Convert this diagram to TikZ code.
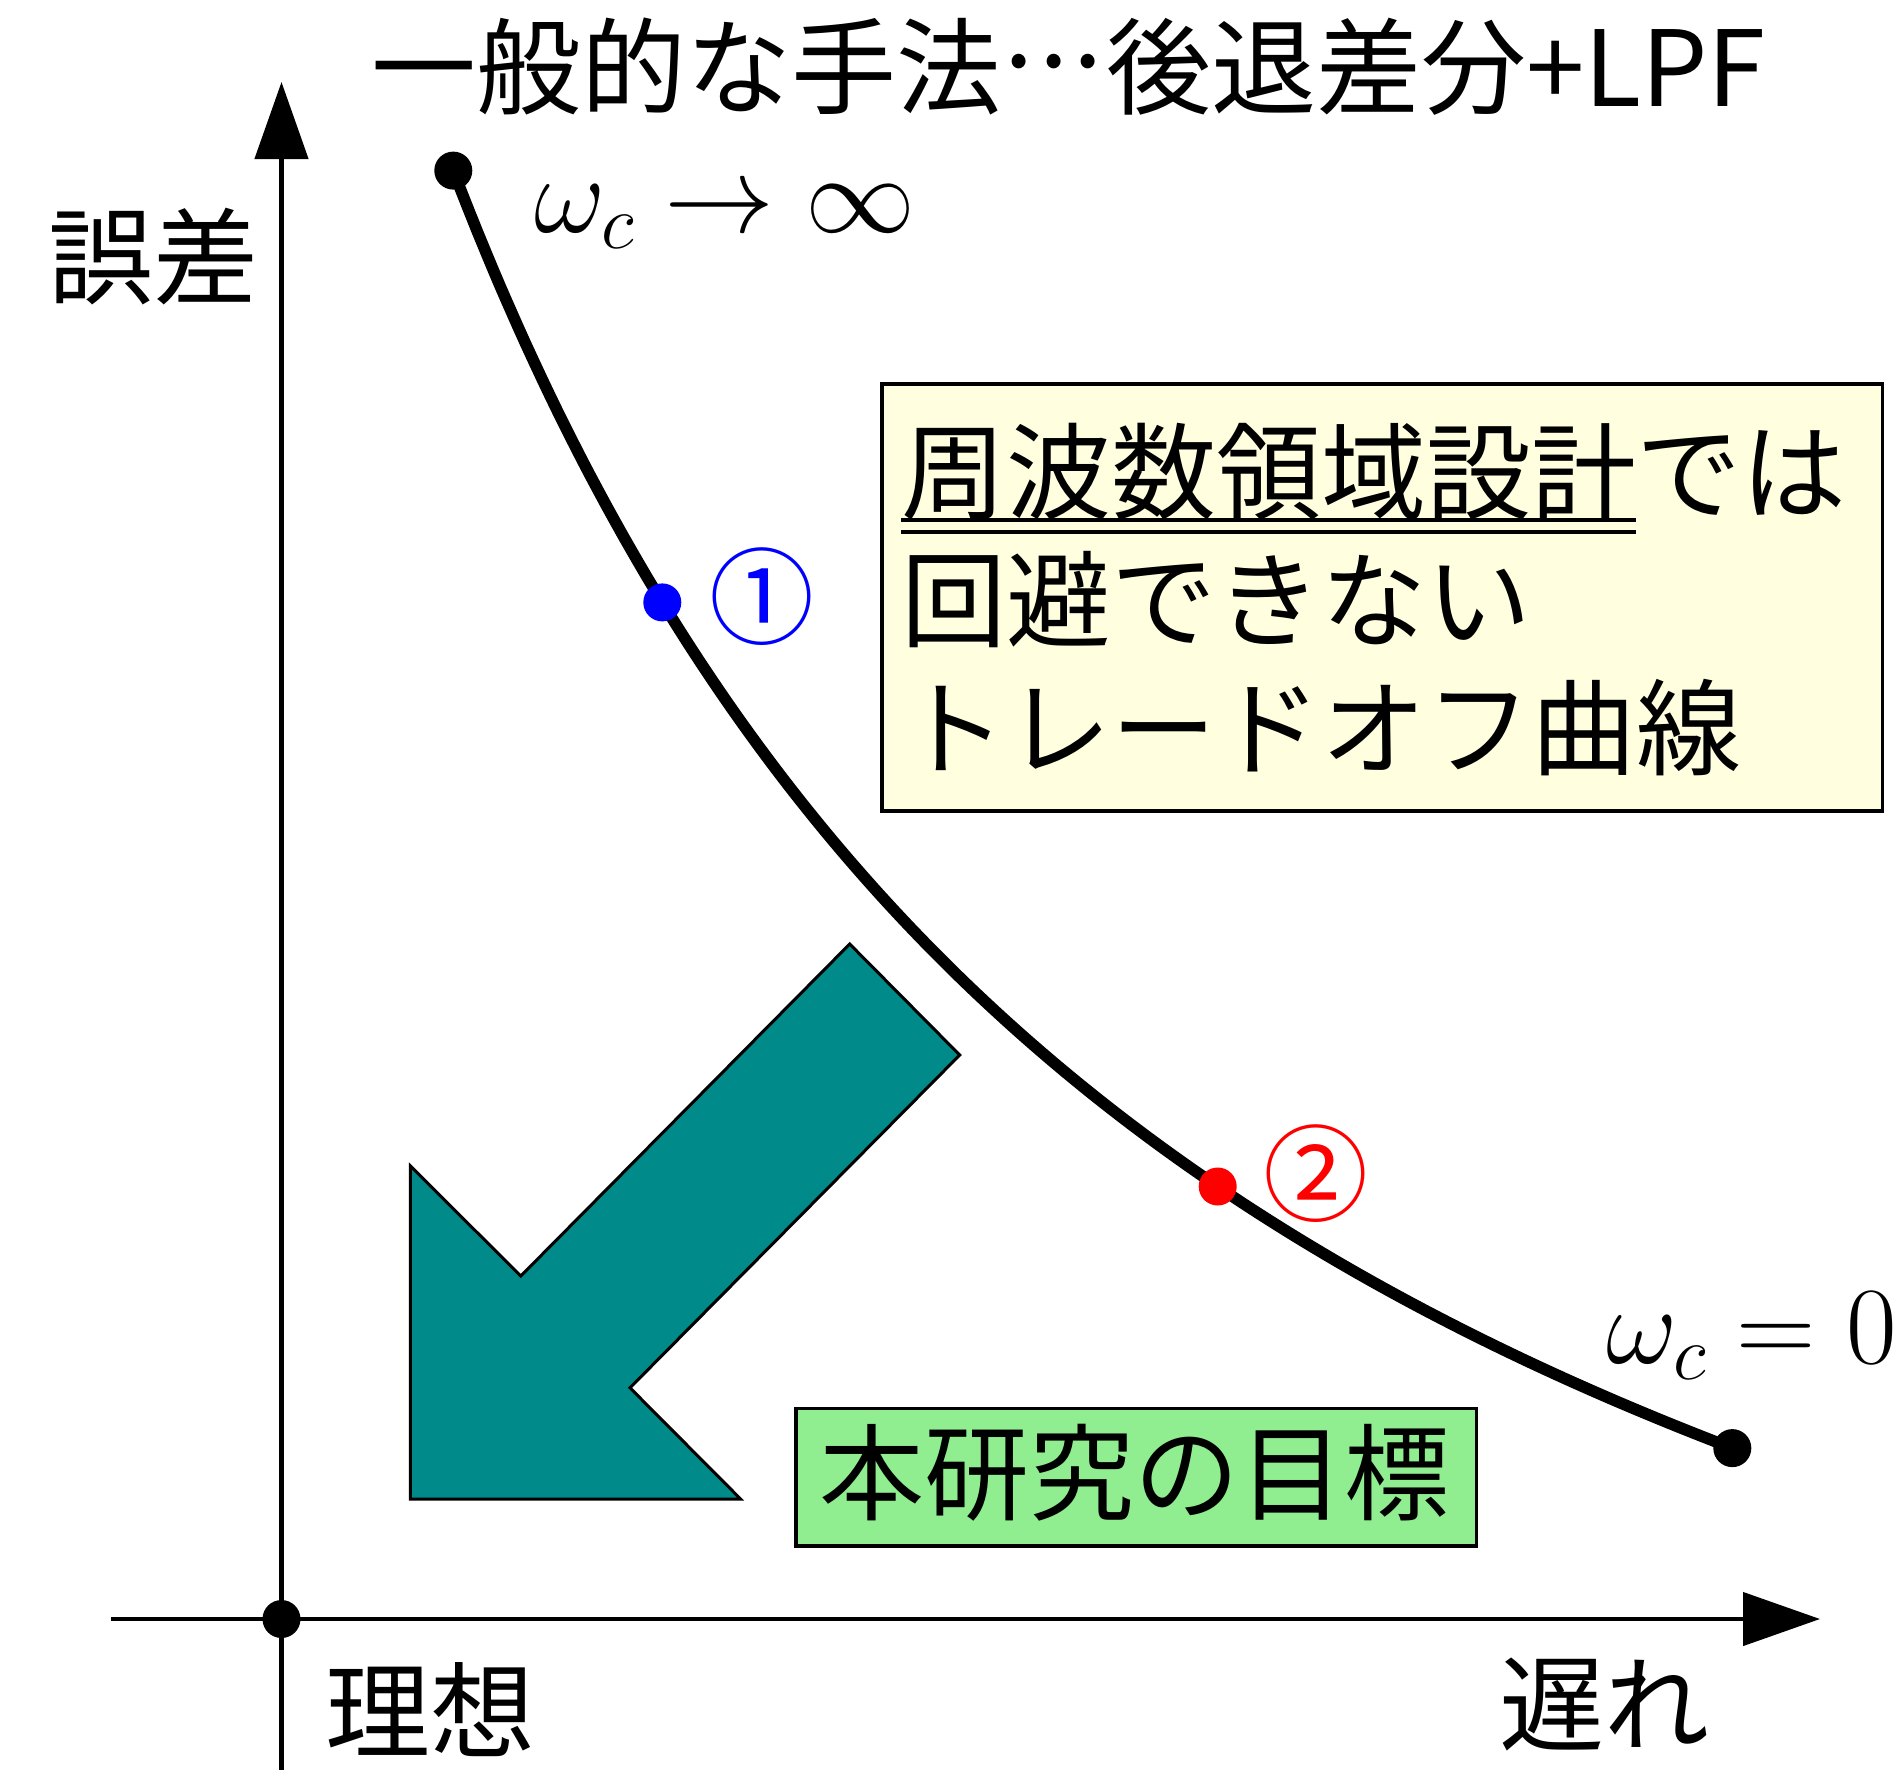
\RequirePackage{fix-cm}
\documentclass[tikz,border=0pt]{standalone}
\usepackage{fontspec}
\newfontfamily\jpfont{Noto Sans CJK JP}
\usetikzlibrary{arrows.meta}
\definecolor{tealfill}{RGB}{0,139,138}
\definecolor{noteyellow}{RGB}{255,255,224}
\definecolor{goalgreen}{RGB}{144,238,144}
\newcommand{\midellipsis}{\makebox[1em][s]{\raisebox{0.37em}{\makebox[1em][s]{\hspace{0.03em}.\hfill.\hfill.\hspace{0.03em}}}}}
\begin{document}
\begin{tikzpicture}[x=1pt,y=-1pt,
  jp/.style={font=\jpfont\fontsize{105}{128}\selectfont, inner sep=0pt},
  mathlbl/.style={font=\fontsize{110}{130}\selectfont, inner sep=0pt},
  dot/.style={circle, fill=#1, inner sep=0pt, minimum size=38pt},
  dot/.default=black,
  axis/.style={line width=4.5pt, -{Triangle[length=77pt,width=53pt]}},
  curve/.style={line width=11.5pt, line join=round},
  notebox/.style={draw, line width=3.5pt, fill=noteyellow, inner sep=0pt, anchor=north west},
  goalbox/.style={draw, line width=3.5pt, fill=goalgreen, inner sep=0pt, anchor=north west},
  bigarrow/.style={draw, line width=3pt, fill=tealfill, line join=miter},
  uline/.style={line width=4pt}
]
\useasboundingbox (0,0) rectangle (1903,1770);

% axes
\coordinate (ybot) at (281.5,1770);
\coordinate (ytop) at (281.5,82);
\coordinate (xleft) at (111,1619);
\coordinate (xright) at (1820,1619);
\draw[axis] (ybot) -- (ytop);
\draw[axis] (xleft) -- (xright);
\node[dot] (origin) at (281.5,1619) {};

% boxes
\node[notebox, minimum width=1000.6pt, minimum height=426.6pt] (note) at (880.3,382.4) {};
\node[goalbox, minimum width=680.5pt, minimum height=137.6pt] (goalbox) at (794.3,1406.7) {};

% big teal arrow
\draw[bigarrow] (849.7,944) -- (959.7,1055) -- (630,1387.8) -- (740.6,1499)
  -- (410.4,1499) -- (410.4,1166) -- (520.8,1276) -- cycle;

% trade-off curve
\draw[curve] plot[domain=171.8:1450.8, samples=160]
  ({281.5+\x},{1619-(1639.2/((\x+620.5)/1000)-620.5)});
\node[dot] (start) at (453.3,170.6) {};
\node[dot] (finish) at (1732.3,1448.1) {};
\node[dot=blue] (p1) at (662.3,602.4) {};
\node[dot=red] (p2) at (1217.7,1186.5) {};

% circled numbers
\node[jp, text=blue] (n1) at (761.7,596.7) {①};
\node[jp, text=red] (n2) at (1316.3,1173.3) {②};

% texts
\node[jp, anchor=base west] (title) at (371,106) {一般的な手法\midellipsis 後退差分+LPF};
\node[jp, anchor=base] (ylabel) at (153,296) {誤差};
\node[jp, anchor=base] (ideal) at (430,1750) {理想};
\node[jp, anchor=base] (xlabel) at (1604,1743) {遅れ};
\node[mathlbl, anchor=base west] (winf) at (534,232) {$\omega_c\to\infty$};
\node[mathlbl, anchor=base west] (wzero) at (1606,1363) {$\omega_c=0$};

\node[jp, anchor=base west] (l1a) at (901,511) {周波数領域設計};
\node[jp, anchor=base west] (l1b) at (l1a.base east) {では};
\draw[uline] ([yshift=-9pt]l1a.base west) -- ([yshift=-9pt]l1a.base east);
\draw[uline] ([yshift=-20.7pt]l1a.base west) -- ([yshift=-20.7pt]l1a.base east);
\node[jp, anchor=base west] (l2) at (901,639) {回避できない};
\node[jp, anchor=base west] (l3) at (901,767) {トレードオフ曲線};

\node[jp, anchor=base] (goal) at (1134.5,1512) {本研究の目標};
\end{tikzpicture}
\end{document}
